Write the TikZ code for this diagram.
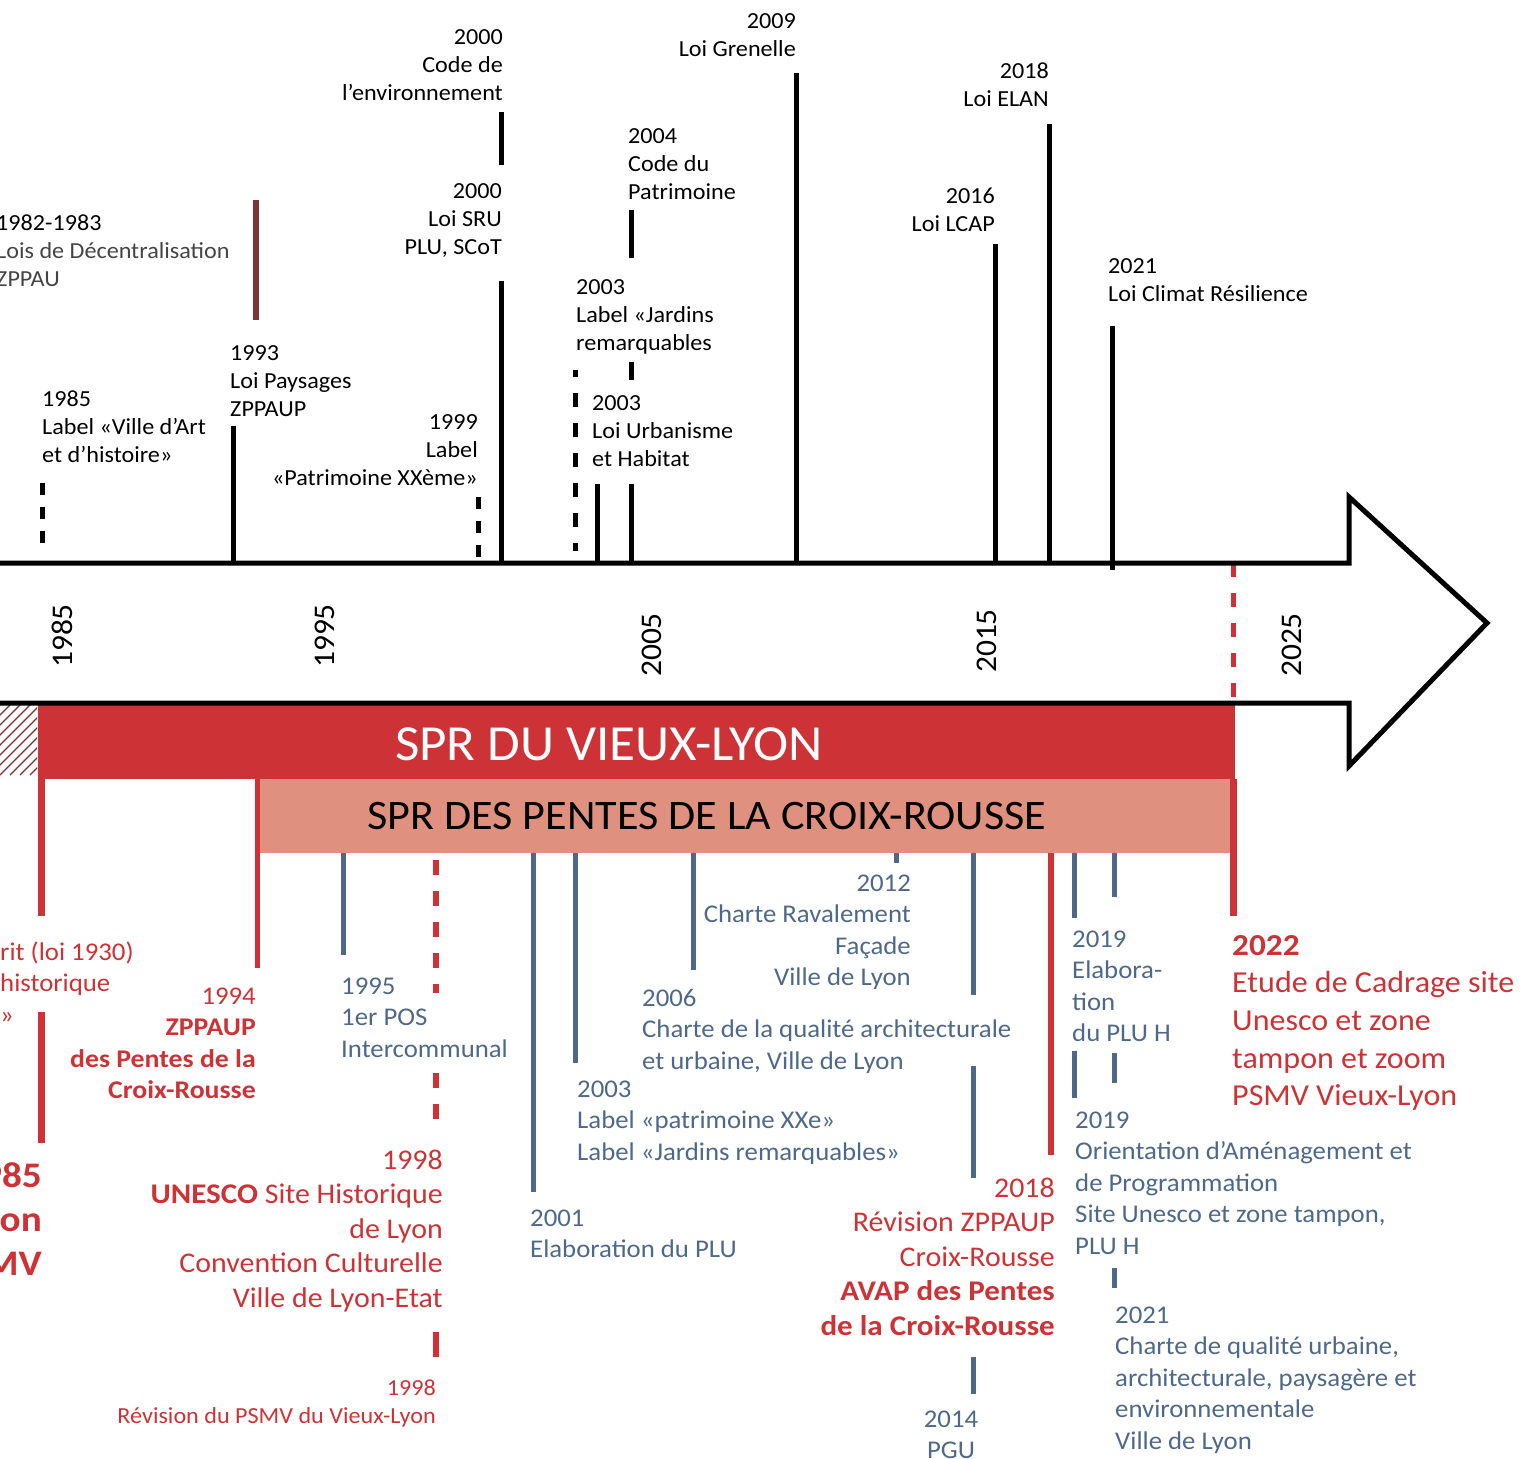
\documentclass[tikz,border=0pt]{standalone}
\usepackage{fontspec}
\setmainfont{Carlito}[FakeStretch=1.05, BoldFeatures={FakeStretch=1.09}]
\definecolor{redc}{HTML}{CD3336}
\definecolor{pinkc}{HTML}{E0907F}
\definecolor{bluec}{HTML}{4E6988}
\definecolor{dredc}{HTML}{7A3535}
\definecolor{hatchc}{HTML}{8B2A2A}
\definecolor{greyt}{HTML}{444444}
\newcommand\mytab[2]{\begin{tabular}[t]{@{}#1@{}}#2\end{tabular}}
\tikzset{
  tick/.style={line width=5pt, black},
  btick/.style={line width=5pt, bluec},
  rtick/.style={line width=6pt, redc},
  dtick/.style={line width=5pt, black, dash pattern=on 12pt off 12pt},
  rdash/.style={line width=6pt, redc, dash pattern=on 15pt off 16pt},
  lab/.style={inner sep=0pt, font=\fontsize{23}{28.3}\selectfont},
  blab/.style={inner sep=0pt, text=bluec, font=\fontsize{25.5}{31.5}\selectfont},
  rlab/.style={inner sep=0pt, text=redc, font=\fontsize{25.5}{31.5}\selectfont},
  rlabb/.style={inner sep=0pt, text=redc, font=\fontsize{28.5}{34.5}\selectfont},
  rlabs/.style={inner sep=0pt, text=redc, font=\fontsize{23}{28}\selectfont},
  rlabl/.style={inner sep=0pt, text=redc, font=\fontsize{30.5}{37.7}\selectfont},
  yr/.style={inner sep=0pt, rotate=90, font=\fontsize{30}{30}\selectfont},
}
\begin{document}
\begin{tikzpicture}[x=1pt,y=-1pt]
\useasboundingbox (0,0) rectangle (1534,1459);
% bands
\fill[redc] (38,703) rectangle (1235,779);
\fill[pinkc] (257,779) rectangle (1230,853);
\begin{scope}
  \clip (0,705) rectangle (37,775);
  \foreach \i in {-80,-70,...,40} \draw[hatchc, line width=1.3pt] (\i,775) -- ++(72,-72);
\end{scope}
\node[text=white, font=\fontsize{50.5}{50}\selectfont, inner sep=0pt] (vl) at (609,744) {SPR DU VIEUX-LYON};
\node[text=black, font=\fontsize{42}{42}\selectfont, inner sep=0pt] (cr) at (707,816) {SPR DES PENTES DE LA CROIX-ROUSSE};
% red verticals
\draw[rtick, line width=7pt] (41,779) -- (41,916);
\draw[rtick, line width=7pt] (41,1012) -- (41,1143);
\draw[rtick, line width=5pt] (257,779) -- (257,968);
\draw[rdash] (436,860) -- (436,993);
\draw[rdash] (436,1073) -- (436,1119);
\draw[rtick] (436,1332) -- (436,1357);
\draw[rtick] (1051,853) -- (1051,1155);
\draw[rtick, line width=7pt] (1233,779) -- (1233,916);
\draw[rdash, line width=5pt, dash pattern=on 14pt off 16pt] (1233,563) -- (1233,703);
% blue verticals
\draw[btick] (343,853) -- (343,955);
\draw[btick] (533,853) -- (533,1192);
\draw[btick] (575,853) -- (575,1063);
\draw[btick] (693,853) -- (693,970);
\draw[btick] (896,853) -- (896,863);
\draw[btick] (973,853) -- (973,995);
\draw[btick] (973,1066) -- (973,1178);
\draw[btick] (973,1357) -- (973,1394);
\draw[btick] (1074,853) -- (1074,918);
\draw[btick] (1074,1051) -- (1074,1098);
\draw[btick] (1114,853) -- (1114,897);
\draw[btick] (1114,1053) -- (1114,1083);
\draw[btick] (1114,1268) -- (1114,1288);
% main arrow
\draw[line width=5pt, miter limit=10] (-5,563) -- (1349,563) -- (1349,497) -- (1487,623) -- (1349,766) -- (1349,703) -- (-5,703);
% top ticks
\draw[dtick] (42,483) -- (42,551);
\draw[line width=6pt, dredc] (256,200) -- (256,320);
\draw[tick] (233,426) -- (233,563);
\draw[dtick] (478,497) -- (478,560);
\draw[tick] (501,281) -- (501,563);
\draw[tick] (501,112) -- (501,165);
\draw[tick, dash pattern=on 14pt off 16pt, dash phase=7pt] (575,370) -- (575,551);
\draw[tick] (597,484) -- (597,563);
\draw[tick] (631,210) -- (631,258);
\draw[tick] (631,362) -- (631,380);
\draw[tick] (631,484) -- (631,563);
\draw[tick] (796,73) -- (796,563);
\draw[tick] (995,244) -- (995,563);
\draw[tick] (1049,124) -- (1049,563);
\draw[tick] (1112,326) -- (1112,570);
% axis years
\node[yr] (y85) at (62,636) {1985};
\node[yr] (y95) at (325,636) {1995};
\node[yr] (y05) at (652,645) {2005};
\node[yr] (y15) at (987,641) {2015};
\node[yr] (y25) at (1292,645) {2025};
% top labels
\node[lab, anchor=base west] (t8283) at (-4,230) {\mytab{l}{1982-1983\\\color{greyt}Lois de Décentralisation\\\color{greyt}ZPPAU}};
\node[lab, anchor=base west] (t85) at (42,406) {\mytab{l}{1985\\Label «Ville d’Art\\et d’histoire»}};
\node[lab, anchor=base west] (t93) at (230,360) {\mytab{l}{1993\\Loi Paysages\\ZPPAUP}};
\node[lab, anchor=base east] (t99) at (478,429) {\mytab{r}{1999\\Label\\«Patrimoine XXème»}};
\node[lab, anchor=base east] (t00a) at (503,44) {\mytab{r}{2000\\Code de\\l’environnement}};
\node[lab, anchor=base east] (t00b) at (502,198) {\mytab{r}{2000\\Loi SRU\\PLU, SCoT}};
\node[lab, anchor=base west] (t04) at (628,143) {\mytab{l}{2004\\Code du\\Patrimoine}};
\node[lab, anchor=base west] (t03a) at (576,294) {\mytab{l}{2003\\Label «Jardins\\remarquables}};
\node[lab, anchor=base west] (t03b) at (592,410) {\mytab{l}{2003\\Loi Urbanisme\\et Habitat}};
\node[lab, anchor=base east] (t09) at (796,28) {\mytab{r}{2009\\Loi Grenelle}};
\node[lab, anchor=base east] (t18) at (1049,78) {\mytab{r}{2018\\Loi ELAN}};
\node[lab, anchor=base east] (t16) at (995,203) {\mytab{r}{2016\\Loi LCAP}};
\node[lab, anchor=base west] (t21) at (1108,273) {\mytab{l}{2021\\Loi Climat Résilience}};
% bottom labels
\node[rlab, anchor=base west] (bl0) at (0,960) {\mytab{l}{rit (loi 1930)\\historique\\»}};
\node[inner sep=0pt, text=redc, font=\fontsize{36}{44}\selectfont\bfseries, anchor=base east] (bl1) at (42,1187) {\mytab{r}{985\\on\\MV}};
\node[rlab, anchor=base east] (b94) at (256,1004) {\mytab{r}{1994\\\textbf{ZPPAUP}\\\textbf{des Pentes de la}\\\textbf{Croix-Rousse}}};
\node[blab, anchor=base west] (b95) at (341,994) {\mytab{l}{1995\\1er POS\\Intercommunal}};
\node[rlabb, anchor=base east] (b98a) at (443,1169) {\mytab{r}{1998\\\textbf{UNESCO} Site Historique\\de Lyon\\Convention Culturelle\\Ville de Lyon-Etat}};
\node[rlabs, anchor=base east] (b98b) at (436,1395) {\mytab{r}{1998\\Révision du PSMV du Vieux-Lyon}};
\node[blab, anchor=base west] (b01) at (530,1226) {\mytab{l}{2001\\Elaboration du PLU}};
\node[blab, anchor=base west] (b03) at (577,1097) {\mytab{l}{2003\\Label «patrimoine XXe»\\Label «Jardins remarquables»}};
\node[blab, anchor=base west] (b06) at (642,1006) {\mytab{l}{2006\\Charte de la qualité architecturale\\et urbaine, Ville de Lyon}};
\node[blab, anchor=base east] (b12) at (911,891) {\mytab{r}{2012\\Charte Ravalement\\Façade\\Ville de Lyon}};
\node[blab, anchor=base] (b14) at (951,1427) {\mytab{c}{2014\\PGU}};
\node[rlabb, anchor=base east] (b18) at (1055,1197) {\mytab{r}{2018\\Révision ZPPAUP\\Croix-Rousse\\\textbf{AVAP des Pentes}\\\textbf{de la Croix-Rousse}}};
\node[blab, anchor=base west] (b19a) at (1072,947) {\mytab{l}{2019\\Elabora-\\tion\\du PLU H}};
\node[blab, anchor=base west] (b19b) at (1075,1128) {\mytab{l}{2019\\Orientation d’Aménagement et\\de Programmation\\Site Unesco et zone tampon,\\PLU H}};
\node[blab, anchor=base west] (b21) at (1115,1323) {\mytab{l}{2021\\Charte de qualité urbaine,\\architecturale, paysagère et\\environnementale\\Ville de Lyon}};
\node[rlabl, anchor=base west] (b22) at (1232,955) {\mytab{l}{\textbf{2022}\\Etude de Cadrage site\\Unesco et zone\\tampon et zoom\\PSMV Vieux-Lyon}};
\end{tikzpicture}
\end{document}
